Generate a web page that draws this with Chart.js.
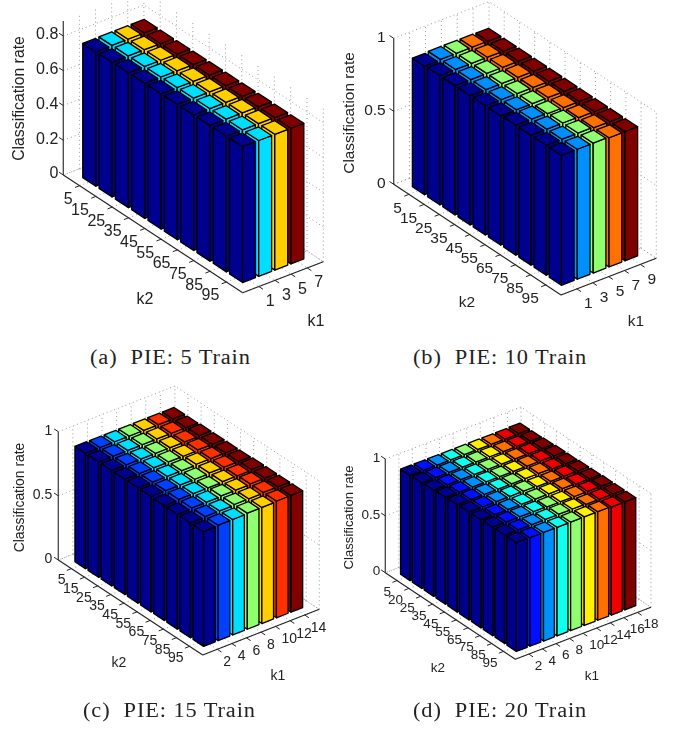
<!DOCTYPE html>
<html>
<head>
<meta charset="utf-8">
<title>PIE classification rate</title>
<script src="https://cdn.jsdelivr.net/npm/chart.js@4"></script>
<style>
  html, body { margin: 0; padding: 0; background: #fff; overflow: hidden; }
  canvas { position: absolute; }
  .cap { position: absolute; font: 20px "Liberation Serif", serif; color: #222; white-space: pre; letter-spacing: 0.8px; transform: scaleX(1.12); transform-origin: 0 0; }
</style>
</head>
<body>
<canvas id="pie5" width="338" height="345" style="left:0;top:0"></canvas>
<canvas id="pie10" width="339" height="345" style="left:338px;top:0"></canvas>
<canvas id="pie15" width="338" height="330" style="left:0;top:370px"></canvas>
<canvas id="pie20" width="339" height="330" style="left:338px;top:370px"></canvas>
<div class="cap" style="left:90px;top:346px">(a)  PIE: 5 Train</div>
<div class="cap" style="left:413px;top:346px">(b)  PIE: 10 Train</div>
<div class="cap" style="left:83px;top:699px">(c)  PIE: 15 Train</div>
<div class="cap" style="left:413px;top:699px">(d)  PIE: 20 Train</div>
<script>
// tick labels
const k2Ticks = ["5", "15", "25", "35", "45", "55", "65", "75", "85", "95"];
const k2TicksD = ["5", "20", "25", "35", "45", "55", "65", "75", "85", "95"];
const k1TicksA = ["1", "3", "5", "7"];
const k1TicksB = ["1", "3", "5", "7", "9"];
const k1TicksC = ["2", "4", "6", "8", "10", "12", "14"];
const k1TicksD = ["2", "4", "6", "8", "10", "12", "14", "16", "18"];
const zTicksA = [0, 0.2, 0.4, 0.6, 0.8];
const zTicksB = [0, 0.5, 1];

// classification rates, one row per k1, one value per k2
const ratesA = [
  [0.773, 0.775, 0.776, 0.777, 0.778, 0.779, 0.78, 0.781, 0.782, 0.782],
  [0.775, 0.776, 0.777, 0.778, 0.779, 0.78, 0.781, 0.782, 0.782, 0.782],
  [0.775, 0.776, 0.777, 0.778, 0.779, 0.78, 0.781, 0.782, 0.782, 0.782],
  [0.776, 0.776, 0.777, 0.778, 0.779, 0.78, 0.78, 0.781, 0.781, 0.781]
];
const ratesB = [
  [0.88, 0.885, 0.885, 0.885, 0.885, 0.885, 0.89, 0.89, 0.89, 0.89],
  [0.885, 0.885, 0.885, 0.885, 0.885, 0.885, 0.89, 0.89, 0.89, 0.89],
  [0.885, 0.885, 0.885, 0.885, 0.885, 0.885, 0.885, 0.89, 0.89, 0.89],
  [0.885, 0.885, 0.885, 0.885, 0.885, 0.885, 0.885, 0.885, 0.885, 0.885],
  [0.884, 0.884, 0.885, 0.885, 0.885, 0.885, 0.885, 0.885, 0.885, 0.885]
];
const ratesC = [
  [0.9, 0.9, 0.9, 0.9, 0.9, 0.9, 0.895, 0.895, 0.895, 0.894],
  [0.9, 0.9, 0.9, 0.9, 0.9, 0.9, 0.9, 0.9, 0.9, 0.9],
  [0.9, 0.9, 0.9, 0.9, 0.9, 0.9, 0.9, 0.9, 0.9, 0.9],
  [0.9, 0.9, 0.9, 0.9, 0.9, 0.9, 0.9, 0.905, 0.905, 0.905],
  [0.9, 0.9, 0.9, 0.9, 0.905, 0.905, 0.905, 0.905, 0.905, 0.905],
  [0.9, 0.9, 0.9, 0.905, 0.905, 0.905, 0.905, 0.91, 0.91, 0.91],
  [0.9, 0.9, 0.905, 0.905, 0.905, 0.905, 0.91, 0.91, 0.91, 0.91]
];
const ratesD = [
  [0.925, 0.93, 0.935, 0.94, 0.945, 0.95, 0.95, 0.955, 0.955, 0.957],
  [0.925, 0.93, 0.935, 0.94, 0.945, 0.95, 0.95, 0.955, 0.955, 0.955],
  [0.925, 0.93, 0.935, 0.94, 0.945, 0.95, 0.95, 0.955, 0.955, 0.955],
  [0.925, 0.93, 0.935, 0.94, 0.945, 0.95, 0.95, 0.955, 0.955, 0.955],
  [0.925, 0.93, 0.935, 0.94, 0.945, 0.95, 0.95, 0.95, 0.955, 0.955],
  [0.925, 0.93, 0.935, 0.94, 0.945, 0.945, 0.95, 0.95, 0.955, 0.955],
  [0.925, 0.93, 0.935, 0.94, 0.945, 0.945, 0.95, 0.95, 0.95, 0.955],
  [0.925, 0.93, 0.935, 0.94, 0.94, 0.945, 0.945, 0.95, 0.95, 0.95],
  [0.928, 0.93, 0.935, 0.94, 0.94, 0.945, 0.945, 0.95, 0.95, 0.95]
];

// jet colours per k1
const coloursA = ["#00008f", "#00dfff", "#ffcf00", "#800000"];
const coloursB = ["#00008f", "#008fff", "#8fff70", "#ff7000", "#800000"];
const coloursC = ["#00008f", "#0040ff", "#00dfff", "#8fff70", "#ffcf00", "#ff3000", "#800000"];
const coloursD = ["#00008f", "#0010ff", "#008fff", "#10ffef", "#8fff70", "#ffef00", "#ff7000", "#ef0000", "#800000"];

// view of each panel: page pixels of the floor corners and of the z axis
const panels = [
  { id: "pie5", left: 0, top: 0, w: 338, h: 345, k1: k1TicksA, k2: k2Ticks, z: zTicksA, rates: ratesA, colours: coloursA,
    leftC: [63.3, 175], front: [242.7, 292.7], right: [323.3, 261.7], zUnit: 173.75, zMax: 0.887,
    font: 16, titleFont: 15.8, titleX: 20, titleY: 98.5, k2Label: [145, 300], k1Label: [316, 322], k2Off: [-7, 14], k1Off: [7, 15], zOff: 5 },
  { id: "pie10", left: 338, top: 0, w: 339, h: 345, k1: k1TicksB, k2: k2Ticks, z: zTicksB, rates: ratesB, colours: coloursB,
    leftC: [393.7, 184.3], front: [561, 295], right: [656.3, 258.3], zUnit: 146, zMax: 1,
    font: 15.5, titleFont: 15.4, titleX: 350, titleY: 113, k2Label: [467, 303], k1Label: [636, 322], k2Off: [-7, 14], k1Off: [7, 15], zOff: 8 },
  { id: "pie15", left: 0, top: 370, w: 338, h: 330, k1: k1TicksC, k2: k2Ticks, z: zTicksB, rates: ratesC, colours: coloursC,
    leftC: [58.3, 560], front: [202.7, 655], right: [319.3, 609.3], zUnit: 128.3, zMax: 1,
    font: 14, titleFont: 13.9, titleX: 20, titleY: 497.5, k2Label: [119, 663], k1Label: [278, 676], k2Off: [-6, 12], k1Off: [6, 13], zOff: 6 },
  { id: "pie20", left: 338, top: 370, w: 339, h: 330, k1: k1TicksD, k2: k2TicksD, z: zTicksB, rates: ratesD, colours: coloursD,
    leftC: [385.3, 572.7], front: [515.3, 659.3], right: [651, 607.3], zUnit: 113.7, zMax: 1,
    font: 13.5, titleFont: 13.2, titleX: 349, titleY: 517.5, k2Label: [438, 668], k1Label: [592, 676], k2Off: [-6, 12], k1Off: [6, 12], zOff: 5 }
];

const barHalf = 0.4;
const tickLen = 5;

function makeView(p) {
  const n1 = p.k1.length, n2 = p.k2.length;
  const ux = (p.front[0] - p.leftC[0]) / (n2 + 1), uy = (p.front[1] - p.leftC[1]) / (n2 + 1);
  const vx = (p.right[0] - p.front[0]) / (n1 + 1), vy = (p.right[1] - p.front[1]) / (n1 + 1);
  // i runs along k1, j along k2, rate upwards
  return function (i, j, rate) {
    return { x: p.leftC[0] + j * ux + i * vx, y: p.leftC[1] + j * uy + i * vy - rate * p.zUnit };
  };
}

function lineSet(points, colour, width, dash) {
  return { data: points, showLine: true, fill: false, borderColor: colour, borderWidth: width, borderDash: dash || [], pointRadius: 0 };
}

function faceSet(points, colour) {
  return { data: points.concat([points[0]]), showLine: true, fill: "shape", backgroundColor: colour, borderColor: "#000", borderWidth: 1.3, pointRadius: 0, borderJoinStyle: "round" };
}

// a tick sticks out of point a, along the direction from b to c
function tickEnd(a, b, c) {
  const dx = c.x - b.x, dy = c.y - b.y, len = Math.hypot(dx, dy);
  return { x: a.x + dx / len * tickLen, y: a.y + dy / len * tickLen };
}

function buildDatasets(p) {
  const at = makeView(p);
  const n1 = p.k1.length, n2 = p.k2.length;
  const iEnd = n1 + 1, jEnd = n2 + 1;
  const sets = [];
  const gridColour = "#999", dots = [1, 3];

  // dotted walls and floor
  p.z.forEach(z => {
    sets.push(lineSet([at(0, 0, z), at(iEnd, 0, z), at(iEnd, jEnd, z)], gridColour, 1, dots));
  });
  for (let i = 1; i <= iEnd; i++) {
    sets.push(lineSet([at(i, 0, 0), at(i, 0, p.zMax)], gridColour, 1, dots));
    if (i < iEnd) sets.push(lineSet([at(i, 0, 0), at(i, jEnd, 0)], gridColour, 1, dots));
  }
  for (let j = 1; j <= jEnd; j++) {
    sets.push(lineSet([at(iEnd, j, 0), at(iEnd, j, p.zMax)], gridColour, 1, dots));
    if (j < jEnd) sets.push(lineSet([at(0, j, 0), at(iEnd, j, 0)], gridColour, 1, dots));
  }
  sets.push(lineSet([at(0, jEnd, 0), at(iEnd, jEnd, 0), at(iEnd, 0, 0), at(0, 0, 0)], gridColour, 1, dots));

  // solid axes and ticks
  sets.push(lineSet([at(0, 0, 0), at(0, 0, p.zMax)], "#444", 1.3));
  sets.push(lineSet([at(0, 0, 0), at(0, jEnd, 0)], "#222", 1.1));
  sets.push(lineSet([at(0, jEnd, 0), at(iEnd, jEnd, 0)], "#222", 1.1));
  p.z.forEach(z => {
    const a = at(0, 0, z);
    sets.push(lineSet([a, tickEnd(a, at(0, 1, 0), at(0, 0, 0))], "#222", 1));
  });
  for (let j = 1; j <= n2; j++) {
    const a = at(0, j, 0);
    sets.push(lineSet([a, tickEnd(a, at(1, 0, 0), at(0, 0, 0))], "#222", 1));
  }
  for (let i = 1; i <= n1; i++) {
    const a = at(i, jEnd, 0);
    sets.push(lineSet([a, tickEnd(a, at(0, 0, 0), at(0, 1, 0))], "#222", 1));
  }

  // bars, far ones first
  for (let j = 1; j <= n2; j++) {
    for (let i = n1; i >= 1; i--) {
      const r = p.rates[i - 1][j - 1], c = p.colours[i - 1];
      const i0 = i - barHalf, i1 = i + barHalf, j0 = j - barHalf, j1 = j + barHalf;
      sets.push(faceSet([at(i0, j0, 0), at(i0, j1, 0), at(i0, j1, r), at(i0, j0, r)], c));
      sets.push(faceSet([at(i0, j1, 0), at(i1, j1, 0), at(i1, j1, r), at(i0, j1, r)], c));
      sets.push(faceSet([at(i0, j0, r), at(i0, j1, r), at(i1, j1, r), at(i1, j0, r)], c));
    }
  }
  // chart.js paints the first dataset last
  return sets.reverse();
}

// tick labels and axis names stay text, placed through the same scales
const axisText = {
  id: "axisText",
  afterDraw(chart, args, opts) {
    const p = opts.panel, at = makeView(p), ctx = chart.ctx;
    const sx = chart.scales.x, sy = chart.scales.y;
    const px = pt => ({ x: sx.getPixelForValue(pt.x), y: sy.getPixelForValue(pt.y) });
    ctx.save();
    ctx.fillStyle = "#222";
    ctx.textBaseline = "middle";
    ctx.font = p.font + 'px "Liberation Sans", sans-serif';

    ctx.textAlign = "right";
    p.z.forEach(z => {
      const a = px(at(0, 0, z));
      ctx.fillText(String(z), a.x - p.zOff, a.y - 1);
    });
    p.k2.forEach((t, idx) => {
      const a = px(at(0, idx + 1, 0));
      ctx.fillText(t, a.x + p.k2Off[0], a.y + p.k2Off[1]);
    });
    ctx.textAlign = "left";
    p.k1.forEach((t, idx) => {
      const a = px(at(idx + 1, p.k2.length + 1, 0));
      ctx.fillText(t, a.x + p.k1Off[0], a.y + p.k1Off[1]);
    });

    ctx.textAlign = "center";
    const k2 = px({ x: p.k2Label[0], y: p.k2Label[1] });
    ctx.fillText("k2", k2.x, k2.y);
    const k1 = px({ x: p.k1Label[0], y: p.k1Label[1] });
    ctx.fillText("k1", k1.x, k1.y);

    const t = px({ x: p.titleX, y: p.titleY });
    ctx.translate(t.x, t.y);
    ctx.rotate(-Math.PI / 2);
    ctx.font = p.titleFont + 'px "Liberation Sans", sans-serif';
    ctx.fillText("Classification rate", 0, 0);
    ctx.restore();
  }
};

panels.forEach(p => {
  new Chart(document.getElementById(p.id), {
    type: "scatter",
    data: { datasets: buildDatasets(p) },
    plugins: [axisText],
    options: {
      responsive: false,
      animation: false,
      layout: { padding: 0 },
      scales: {
        x: { type: "linear", display: false, min: p.left, max: p.left + p.w },
        y: { type: "linear", display: false, reverse: true, min: p.top, max: p.top + p.h }
      },
      plugins: {
        legend: { display: false },
        tooltip: { enabled: false },
        title: { display: false },
        axisText: { panel: p }
      }
    }
  });
});
</script>
</body>
</html>
